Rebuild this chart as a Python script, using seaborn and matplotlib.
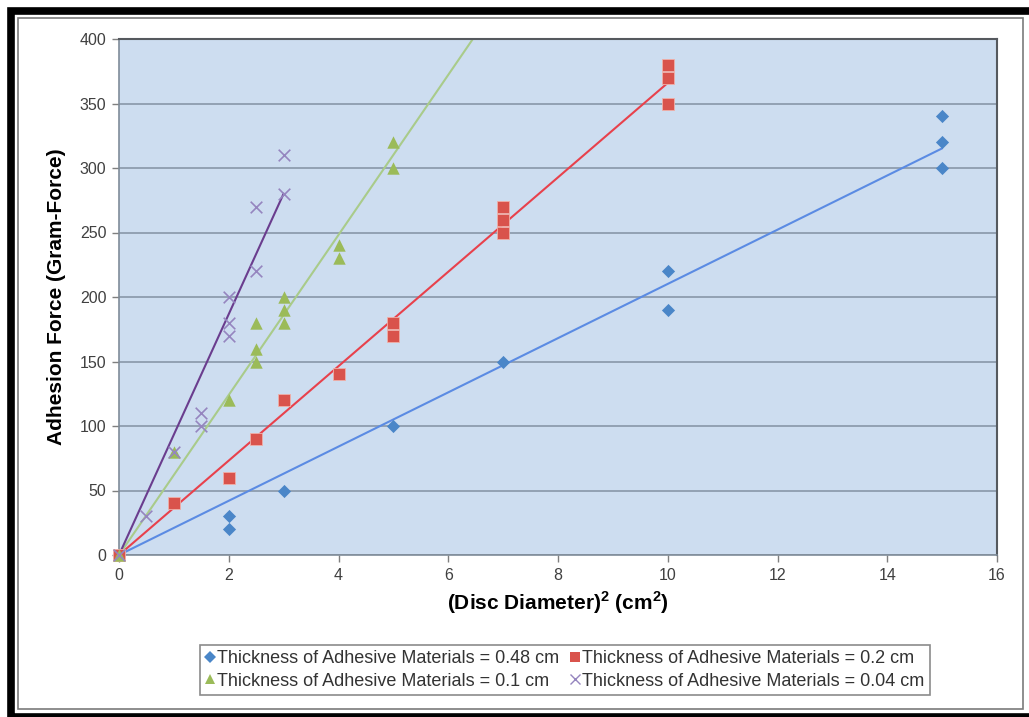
import numpy as np
import pandas as pd
import matplotlib
matplotlib.use("Agg")
import matplotlib.pyplot as plt
from matplotlib.patches import Rectangle
from matplotlib.lines import Line2D
import seaborn as sns

# Measured adhesion force (gram-force) against squared disc diameter (cm^2)
x_048 = [0, 2, 2, 3, 5, 7, 10, 10, 15, 15, 15]
y_048 = [0, 30, 20, 50, 100, 150, 220, 190, 340, 320, 300]

x_02 = [0, 1, 2, 2.5, 3, 4, 5, 5, 7, 7, 7, 10, 10, 10]
y_02 = [0, 40, 60, 90, 120, 140, 180, 170, 270, 260, 250, 380, 370, 350]

x_01 = [0, 1, 2, 2.5, 2.5, 2.5, 3, 3, 3, 4, 4, 5, 5]
y_01 = [0, 80, 120, 180, 160, 150, 200, 190, 180, 240, 230, 320, 300]

x_004 = [0, 0.5, 1, 1.5, 1.5, 2, 2, 2, 2.5, 2.5, 3, 3]
y_004 = [0, 30, 80, 110, 100, 200, 180, 170, 270, 220, 310, 280]

labels = [
    "Thickness of Adhesive Materials = 0.48 cm",
    "Thickness of Adhesive Materials = 0.2 cm",
    "Thickness of Adhesive Materials = 0.1 cm",
    "Thickness of Adhesive Materials = 0.04 cm",
]
x_ticks = [0, 2, 4, 6, 8, 10, 12, 14, 16]
y_ticks = [0, 50, 100, 150, 200, 250, 300, 350, 400]

series = [(x_048, y_048), (x_02, y_02), (x_01, y_01), (x_004, y_004)]
# trend line extents along x
trend_end = [15, 10, 7, 3]

marker_colors = ["#4A86C8", "#D9534C", "#9BBB59", "#9585BF"]
line_colors = ["#5B8BE3", "#E8414C", "#A9CB8A", "#6A3D8E"]
markers = ["D", "s", "^", "x"]
marker_sizes = [45, 75, 80, 70]

frames = []
for lab, (xs, ys) in zip(labels, series):
    frames.append(pd.DataFrame({"d2": xs, "force": ys, "series": lab}))
df = pd.concat(frames, ignore_index=True)

sns.set_theme(style="white")
plt.rcParams["font.family"] = ["Liberation Sans", "DejaVu Sans"]
plt.rcParams["mathtext.fontset"] = "custom"
plt.rcParams["mathtext.bf"] = "Liberation Sans:bold"
plt.rcParams["mathtext.rm"] = "Liberation Sans"

fig = plt.figure(figsize=(10.29, 7.17), dpi=100)
ax = fig.add_axes([119 / 1029, 1 - 555 / 717, (997 - 119) / 1029, (555 - 39) / 717])
ax.set_facecolor("#CDDDF0")

# horizontal gridlines
ax.set_axisbelow(True)
ax.yaxis.grid(True, color="#8D9CAE", linewidth=1.3)
ax.xaxis.grid(False)

# trend lines through the origin (least squares)
for (xs, ys), xe, lc in zip(series, trend_end, line_colors):
    xa = np.asarray(xs, float)
    ya = np.asarray(ys, float)
    slope = (xa * ya).sum() / (xa * xa).sum()
    xl = np.array([0.0, xe])
    ax.plot(xl, slope * xl, color=lc, linewidth=1.5, zorder=2)

for lab, mk, mc, ms in zip(labels, markers, marker_colors, marker_sizes):
    sub = df[df["series"] == lab]
    if mk == "x":
        sns.scatterplot(data=sub, x="d2", y="force", marker=mk, color=mc, s=ms,
                        linewidth=1.2, ax=ax, zorder=3, legend=False, clip_on=False)
    elif mk == "s":
        sns.scatterplot(data=sub, x="d2", y="force", marker=mk, color=mc, s=ms,
                        linewidth=0.6, edgecolor="#F0B0A8", ax=ax, zorder=3,
                        legend=False, clip_on=False)
    else:
        sns.scatterplot(data=sub, x="d2", y="force", marker=mk, color=mc, s=ms,
                        linewidth=0, ax=ax, zorder=3, legend=False, clip_on=False)

ax.set_xlim(0, 16)
ax.set_ylim(0, 400)
ax.set_xticks(x_ticks)
ax.set_yticks(y_ticks)
ax.tick_params(axis="both", direction="out", length=5, width=1, color="#7F7F7F",
               labelsize=11.5, labelcolor="#404040", pad=4)
ax.tick_params(axis="x", bottom=True)
ax.tick_params(axis="y", left=True)

for side in ["left", "bottom"]:
    ax.spines[side].set_color("#7F8C99")
    ax.spines[side].set_linewidth(1.2)
for side in ["top", "right"]:
    ax.spines[side].set_color("#55595E")
    ax.spines[side].set_linewidth(1.5)

ax.set_xlabel(r"(Disc Diameter)$^{\mathbf{2}}$ (cm$^{\mathbf{2}}$)", fontsize=15,
              fontweight="bold", color="black", labelpad=5)
ax.set_ylabel("Adhesion Force (Gram-Force)", fontsize=15, fontweight="bold",
              color="black", labelpad=10)

handles = []
for lab, mk, mc in zip(labels, markers, marker_colors):
    handles.append(Line2D([], [], linestyle="none", marker=mk, color=mc,
                          markersize=7 if mk != "D" else 6,
                          markeredgewidth=1 if mk == "x" else 0, label=lab))
order = [0, 2, 1, 3]
leg = fig.legend([handles[i] for i in order], [labels[i] for i in order],
                 ncol=2, loc="center", bbox_to_anchor=(565 / 1029, 1 - 670 / 717),
                 frameon=True, fancybox=False, fontsize=13, handlelength=0.5,
                 handletextpad=0.15, columnspacing=0.6, labelspacing=0.3,
                 borderpad=0.3, borderaxespad=0)
leg.get_frame().set_edgecolor("#6E6E6E")
leg.get_frame().set_linewidth(1.2)
for t in leg.get_texts():
    t.set_color("#333333")

# picture frame: heavy black border with a thin inner gray rule
W, H = 1029, 717
fig.patches.append(Rectangle((10.5 / W, 0.5 / H), (W + 10) / W, (H - 11.5) / H,
                             transform=fig.transFigure, fill=False,
                             edgecolor="black", linewidth=5.5, zorder=10))
fig.patches.append(Rectangle((18 / W, 8.5 / H), (1023 - 18) / W, (H - 18 - 8.5) / H,
                             transform=fig.transFigure, fill=False,
                             edgecolor="#7A7A7A", linewidth=1.2, zorder=10))

fig.savefig("out.png", dpi=100, facecolor="white")
